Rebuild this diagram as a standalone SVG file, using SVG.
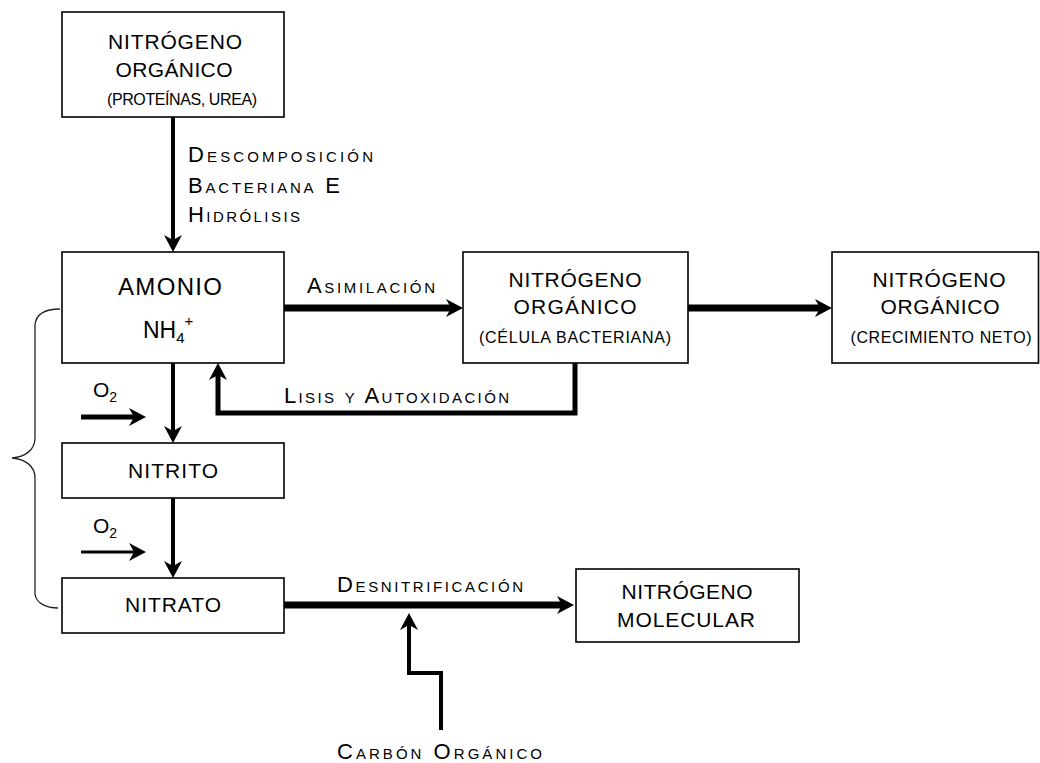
<svg xmlns="http://www.w3.org/2000/svg" width="1040" height="763" viewBox="0 0 1040 763">
<style>
text{font-family:"Liberation Sans",Arial,sans-serif;fill:#000}
.box{fill:#fff;stroke:#000;stroke-width:1.6}
.t{font-size:21px;text-anchor:middle}
.p{font-size:16px;text-anchor:middle}
.lbl{font-size:22px;font-variant:small-caps}
.c{fill:none;stroke:#000;stroke-linejoin:miter;stroke-linecap:butt;marker-end:url(#ah)}
</style>
<defs>
<marker id="ah" markerUnits="userSpaceOnUse" markerWidth="18" markerHeight="18" refX="8" refY="9" orient="auto" overflow="visible">
<path d="M0,0 L17,9 L0,18 L5,9 Z" fill="#000"/>
</marker>
</defs>
<rect width="1040" height="763" fill="#fff"/>

<g id="connectors">
<line class="c" x1="173" y1="117" x2="173" y2="243" stroke-width="4"/>
<line class="c" x1="284" y1="308" x2="454" y2="308" stroke-width="7"/>
<line class="c" x1="688" y1="308" x2="823" y2="308" stroke-width="7"/>
<path class="c" d="M575,363 V413 H218 V372" stroke-width="5"/>
<line class="c" x1="173" y1="363" x2="173" y2="434" stroke-width="4"/>
<line class="c" x1="173" y1="498" x2="173" y2="569" stroke-width="4"/>
<line class="c" x1="81" y1="417" x2="137" y2="417" stroke-width="5"/>
<line class="c" x1="81" y1="552" x2="137" y2="552" stroke-width="3"/>
<line class="c" x1="284" y1="605" x2="565" y2="605" stroke-width="7"/>
<path class="c" d="M441,730 V673 H409 V622" stroke-width="4"/>
<path d="M60,309 C45,309 36,314 35,325 L35,438 C35,450 25,457 12,458 C25,459 35,466 35,478 L35,594 C36,603 46,608 58,608" fill="none" stroke="#222" stroke-width="1.3"/>
</g>

<g id="lbl-descomposicion">
<text class="lbl" x="188" y="162" textLength="185" lengthAdjust="spacing">Descomposición</text>
<text class="lbl" x="188" y="193" textLength="152" lengthAdjust="spacing">Bacteriana E</text>
<text class="lbl" x="188" y="222" textLength="112" lengthAdjust="spacing">Hidrólisis</text>
</g>
<g id="lbl-asimilacion"><text class="lbl" x="307" y="293" textLength="128" lengthAdjust="spacing">Asimilación</text></g>
<g id="lbl-lisis"><text class="lbl" x="284" y="403" textLength="225" lengthAdjust="spacing">Lisis y Autoxidación</text></g>
<g id="lbl-desnitrificacion"><text class="lbl" x="337" y="592" textLength="186" lengthAdjust="spacing">Desnitrificación</text></g>
<g id="lbl-carbon"><text class="lbl" x="337" y="759" textLength="205" lengthAdjust="spacing">Carbón Orgánico</text></g>
<g id="lbl-o2a"><text x="93" y="397" font-size="21">O<tspan font-size="14" dy="5">2</tspan></text></g>
<g id="lbl-o2b"><text x="93" y="533" font-size="21">O<tspan font-size="14" dy="5">2</tspan></text></g>

<g id="n-organico-top">
<rect class="box" x="62" y="12" width="222" height="105"/>
<text class="t" x="175" y="49" textLength="134">NITRÓGENO</text>
<text class="t" x="174" y="77" textLength="117">ORGÁNICO</text>
<text class="p" x="182" y="105" font-size="15" textLength="150">(PROTEÍNAS, UREA)</text>
</g>

<g id="n-amonio">
<rect class="box" x="62" y="252" width="222" height="111"/>
<text x="170" y="295" font-size="24" text-anchor="middle" textLength="104">AMONIO</text>
<text x="143" y="338" font-size="23">NH<tspan font-size="15" dy="5">4</tspan><tspan font-size="15" dy="-17">+</tspan></text>
</g>

<g id="n-celula">
<rect class="box" x="463" y="252" width="225" height="111"/>
<text class="t" x="575" y="287" textLength="133">NITRÓGENO</text>
<text class="t" x="575" y="314" textLength="123">ORGÁNICO</text>
<text class="p" x="575" y="343" textLength="192">(CÉLULA BACTERIANA)</text>
</g>

<g id="n-crecimiento">
<rect class="box" x="832" y="252" width="206.5" height="111"/>
<text class="t" x="939" y="287" textLength="133">NITRÓGENO</text>
<text class="t" x="940" y="314" textLength="119">ORGÁNICO</text>
<text class="p" x="941" y="343" textLength="181">(CRECIMIENTO NETO)</text>
</g>

<g id="n-nitrito">
<rect class="box" x="62" y="443" width="222" height="55"/>
<text class="t" x="173" y="478" textLength="90">NITRITO</text>
</g>

<g id="n-nitrato">
<rect class="box" x="62" y="578" width="222" height="55"/>
<text class="t" x="173" y="612" textLength="96">NITRATO</text>
</g>

<g id="n-molecular">
<rect class="box" x="576" y="569" width="223" height="73"/>
<text class="t" x="687" y="599" textLength="131">NITRÓGENO</text>
<text class="t" x="686" y="627" textLength="138">MOLECULAR</text>
</g>
</svg>
